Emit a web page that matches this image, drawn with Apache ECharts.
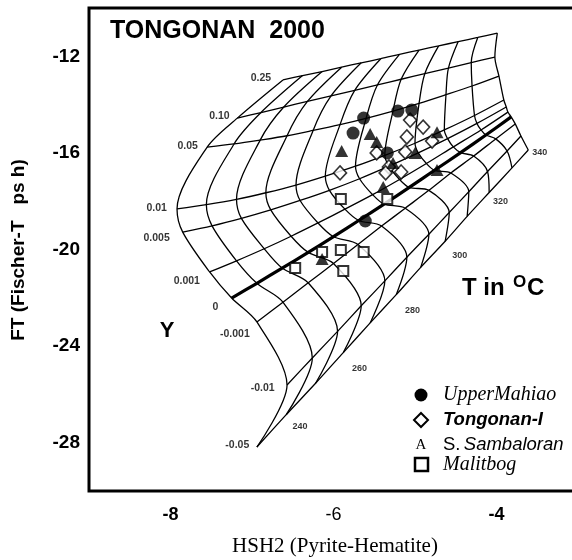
<!DOCTYPE html>
<html><head><meta charset="utf-8">
<script src="https://cdn.jsdelivr.net/npm/echarts@6/dist/echarts.min.js"></script>
<style>html,body{margin:0;padding:0;background:#fff}#c{width:572px;height:560px}</style>
</head><body><div id="c"></div>
<script>
// ---- data ----
const yLevels = ['0.25','0.10','0.05','0.01','0.005','0.001','0','-0.001','-0.01','-0.05'];
const tLevels = [230,240,250,260,270,280,290,300,310,320,330,340];
const tLabelTexts = ['240','260','280','300','320','340'];
const xTickLabels = ['-8','-6','-4'];
const yTickLabels = ['-12','-16','-20','-24','-28'];
// grid nodes: HSH2 (x) and FT (y) for every Y-line (row) and T-line (column)
const meshX = [
 [-6.62,-6.38,-6.14,-5.90,-5.66,-5.42,-5.19,-4.95,-4.71,-4.47,-4.23,-3.99],
 [-7.18,-6.89,-6.61,-6.32,-6.03,-5.74,-5.46,-5.17,-4.88,-4.59,-4.31,-4.02],
 [-7.55,-7.22,-6.90,-6.57,-6.25,-5.92,-5.60,-5.27,-4.95,-4.62,-4.30,-3.97],
 [-7.92,-7.56,-7.19,-6.83,-6.46,-6.10,-5.73,-5.37,-5.00,-4.64,-4.27,-3.91],
 [-7.85,-7.49,-7.13,-6.77,-6.41,-6.05,-5.68,-5.32,-4.96,-4.60,-4.24,-3.88],
 [-7.52,-7.19,-6.85,-6.52,-6.19,-5.86,-5.52,-5.19,-4.86,-4.53,-4.19,-3.86],
 [-7.25,-6.94,-6.63,-6.31,-6.00,-5.69,-5.38,-5.07,-4.76,-4.44,-4.13,-3.82],
 [-6.94,-6.62,-6.31,-6.00,-5.70,-5.41,-5.12,-4.83,-4.56,-4.28,-4.01,-3.77],
 [-6.57,-6.26,-5.95,-5.66,-5.37,-5.10,-4.83,-4.58,-4.34,-4.11,-3.87,-3.70],
 [-6.94,-6.58,-6.22,-5.88,-5.55,-5.23,-4.93,-4.63,-4.36,-4.09,-3.81,-3.61]
];
const meshY = [
 [-12.98,-12.80,-12.63,-12.45,-12.27,-12.10,-11.92,-11.74,-11.57,-11.39,-11.22,-11.04],
 [-14.56,-14.33,-14.10,-13.87,-13.64,-13.41,-13.18,-12.95,-12.72,-12.49,-12.26,-12.03],
 [-15.76,-15.63,-15.47,-15.29,-15.07,-14.83,-14.57,-14.27,-13.95,-13.59,-13.23,-12.82],
 [-18.32,-18.14,-17.92,-17.65,-17.33,-16.96,-16.55,-16.10,-15.60,-15.05,-14.45,-13.81],
 [-19.28,-19.02,-18.71,-18.36,-17.97,-17.55,-17.07,-16.55,-16.00,-15.41,-14.78,-14.10],
 [-20.93,-20.47,-19.97,-19.45,-18.90,-18.33,-17.73,-17.10,-16.44,-15.75,-15.05,-14.31],
 [-22.01,-21.40,-20.77,-20.12,-19.47,-18.80,-18.12,-17.43,-16.72,-15.99,-15.26,-14.51],
 [-23.00,-22.18,-21.38,-20.58,-19.79,-19.03,-18.29,-17.55,-16.83,-16.13,-15.42,-14.80],
 [-25.61,-24.49,-23.39,-22.33,-21.30,-20.32,-19.37,-18.47,-17.61,-16.77,-15.92,-15.30],
 [-28.18,-26.84,-25.54,-24.27,-23.04,-21.87,-20.74,-19.66,-18.63,-17.64,-16.62,-15.88]
];
// label anchor positions (data units)
const yLabelX = [-6.89,-7.40,-7.79,-8.17,-8.17,-7.80,-7.45,-7.21,-6.87,-7.18];
const yLabelY = [-12.90,-14.47,-15.71,-18.28,-19.52,-21.30,-22.38,-23.50,-25.74,-28.10];
const tLabelX = [-6.41,-5.68,-5.03,-4.45,-3.95,-3.47];
const tLabelY = [-27.35,-24.91,-22.51,-20.23,-18.03,-16.00];
// samples
const mahiaoX = [-5.76,-5.63,-5.21,-5.04,-5.34,-5.61];
const mahiaoY = [-15.18,-14.56,-14.27,-14.22,-16.00,-18.82];
const tongonanX = [-5.06,-4.90,-5.10,-4.79,-5.47,-5.12,-5.32,-5.17,-5.36,-5.92];
const tongonanY = [-14.64,-14.93,-15.34,-15.51,-16.00,-15.96,-16.58,-16.79,-16.83,-16.83];
const sambaloranX = [-5.90,-5.55,-5.47,-5.27,-5.39,-5.00,-4.73,-4.73,-6.14];
const sambaloranY = [-15.92,-15.22,-15.55,-16.42,-17.41,-16.00,-15.14,-16.71,-20.39];
const malitbogX = [-5.91,-5.34,-6.14,-5.91,-5.63,-6.47,-5.88];
const malitbogY = [-17.91,-17.91,-20.10,-20.02,-20.10,-20.77,-20.89];

// ---- chart ----
const chart = echarts.init(document.getElementById('c'), null, {renderer:'canvas'});
const pairs = (xs, ys) => xs.map((x,i)=>[x, ys[i]]);
const series = [];
yLevels.forEach((lv, i) => {
  series.push({type:'line', data: pairs(meshX[i], meshY[i]), smooth:0.3, symbol:'none', silent:true,
    lineStyle:{color:'#000', width: lv==='0' ? 3.2 : 1.3}, z:2});
});
tLevels.forEach((t, k) => {
  series.push({type:'line', data: meshX.map((row,i)=>[row[k], meshY[i][k]]), smooth:0.3, symbol:'none', silent:true,
    lineStyle:{color:'#000', width:1.3}, z:2});
});
series.push({type:'scatter', symbolSize:0, silent:true, z:3,
  data: yLevels.map((lv,i)=>({value:[yLabelX[i], yLabelY[i]], name:lv})),
  label:{show:true, position:'inside', formatter:p=>p.name, color:'#000', fontSize:10.5, fontWeight:'bold', fontFamily:'Liberation Sans'}});
series.push({type:'scatter', symbolSize:0, silent:true, z:3,
  data: tLabelTexts.map((lv,i)=>({value:[tLabelX[i], tLabelY[i]], name:lv})),
  label:{show:true, position:'inside', formatter:p=>p.name, color:'#000', fontSize:9, fontWeight:'bold', fontFamily:'Liberation Sans'}});
series.push({type:'scatter', name:'Upper Mahiao', data:pairs(mahiaoX, mahiaoY), symbol:'circle', symbolSize:13,
  itemStyle:{color:'#000'}, z:5});
series.push({type:'scatter', name:'Tongonan-I', data:pairs(tongonanX, tongonanY), symbol:'diamond', symbolSize:[13,14],
  itemStyle:{color:'#fff', borderColor:'#000', borderWidth:1.6}, z:4});
series.push({type:'scatter', name:'S. Sambaloran', data:pairs(sambaloranX, sambaloranY), symbol:'triangle', symbolSize:[13,12],
  itemStyle:{color:'#000'}, z:5});
series.push({type:'scatter', name:'Malitbog', data:pairs(malitbogX, malitbogY), symbol:'rect', symbolSize:10,
  itemStyle:{color:'#fff', borderColor:'#000', borderWidth:2}, z:4});

const boldTicks = ['-8','-4'];
chart.setOption({
  animation:false,
  backgroundColor:'#fff',
  grid:{left:89, top:8, width:489, height:483, outerBoundsMode:'none', containLabel:false, show:true, borderColor:'#000', borderWidth:3, backgroundColor:'transparent'},
  xAxis:{type:'value', min:-9, max:-3, interval:1,
    axisLine:{show:false}, axisTick:{show:false}, splitLine:{show:false},
    axisLabel:{margin:15, color:'#000', fontFamily:'Liberation Sans', fontSize:18,
      formatter:v=>{const s=String(v); if(!xTickLabels.includes(s)) return ''; return boldTicks.includes(s)?'{b|'+s+'}':'{n|'+s+'}';},
      rich:{b:{fontWeight:'bold', fontSize:18, fontFamily:'Liberation Sans', color:'#000'}, n:{fontWeight:'normal', fontSize:18, fontFamily:'Liberation Sans', color:'#000'}}}},
  yAxis:{type:'value', min:-30, max:-10, interval:2,
    axisLine:{show:false}, axisTick:{show:false}, splitLine:{show:false},
    axisLabel:{margin:9, color:'#000', fontFamily:'Liberation Sans', fontSize:19, fontWeight:'bold',
      formatter:v=>{const s=String(v); return yTickLabels.includes(s)?s:'';}}},
  series: series,
  graphic:[
    {type:'text', x:110, y:31, style:{text:'TONGONAN  2000', font:'bold 25px "Liberation Sans"', fill:'#000', verticalAlign:'middle'}},
    {type:'text', x:19, y:250, rotation:Math.PI/2, style:{text:'FT (Fischer-T   ps h)', font:'bold 19px "Liberation Sans"', fill:'#000', align:'center', verticalAlign:'middle'}},
    {type:'text', x:335, y:546, style:{text:'HSH2 (Pyrite-Hematite)', font:'21px "Liberation Serif"', fill:'#000', align:'center', verticalAlign:'middle'}},
    {type:'text', x:462, y:288, style:{text:'T in', font:'bold 24px "Liberation Sans"', fill:'#000', verticalAlign:'middle'}},
    {type:'text', x:513, y:282, style:{text:'O', font:'bold 17px "Liberation Sans"', fill:'#000', verticalAlign:'middle'}},
    {type:'text', x:527, y:288, style:{text:'C', font:'bold 24px "Liberation Sans"', fill:'#000', verticalAlign:'middle'}},
    {type:'text', x:167, y:331, style:{text:'Y', font:'bold 22px "Liberation Sans"', fill:'#000', align:'center', verticalAlign:'middle'}},
    {type:'circle', shape:{cx:421, cy:395, r:6.5}, style:{fill:'#000'}},
    {type:'text', x:443, y:395, style:{text:'UpperMahiao', font:'italic 20px "Liberation Serif"', fill:'#000', verticalAlign:'middle'}},
    {type:'polygon', shape:{points:[[421,413],[428,420],[421,427],[414,420]]}, style:{fill:'#fff', stroke:'#000', lineWidth:2}},
    {type:'text', x:443, y:420, style:{text:'Tongonan-I', font:'italic bold 18.5px "Liberation Sans"', fill:'#000', verticalAlign:'middle'}},
    {type:'text', x:421, y:445, style:{text:'A', font:'15px "Liberation Serif"', fill:'#000', align:'center', verticalAlign:'middle'}},
    {type:'text', x:443, y:445, style:{text:'{u|S.} {i|Sambaloran}', verticalAlign:'middle', rich:{u:{font:'18.5px "Liberation Sans"', fill:'#000'}, i:{font:'italic 18.5px "Liberation Sans"', fill:'#000'}}}},
    {type:'rect', shape:{x:415, y:458, width:13, height:13}, style:{fill:'#fff', stroke:'#000', lineWidth:2.5}},
    {type:'text', x:443, y:465, style:{text:'Malitbog', font:'italic 20px "Liberation Serif"', fill:'#000', verticalAlign:'middle'}}
  ]
});
</script></body></html>
